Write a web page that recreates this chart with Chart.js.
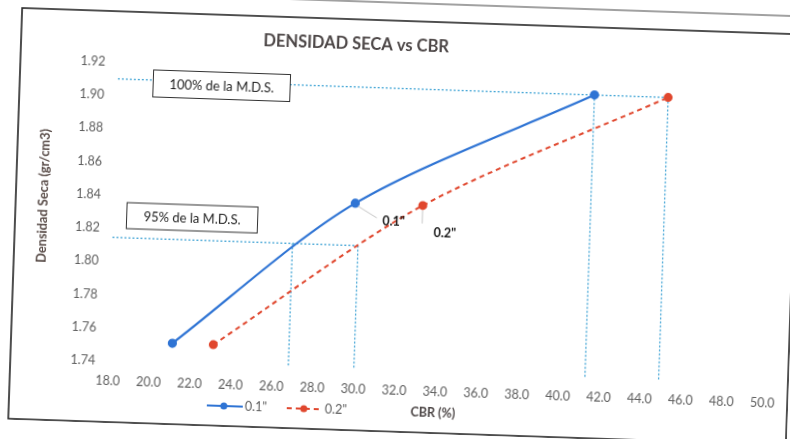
<!DOCTYPE html>
<html>
<head>
<meta charset="utf-8">
<title>Densidad seca vs CBR</title>
<script src="https://cdn.jsdelivr.net/npm/chart.js@4.4.0/dist/chart.umd.min.js"></script>
<style>
    html, body { margin: 0; padding: 0; background: #fff; }
    body { width: 790px; height: 439px; overflow: hidden; position: relative; }
    /* hoja escaneada: el marco del gráfico queda un poco girado */
    #hoja {
        position: absolute; left: 14px; top: 20px;
        width: 780px; height: 413px;
        transform: rotate(1.94deg);
    }
    #graficoCBR { position: absolute; left: 0; top: 0; }
    #corte { position: absolute; left: 0; top: -19px; }
</style>
</head>
<body>
<div id="hoja">
    <canvas id="corte" width="780" height="4"></canvas>
    <canvas id="graficoCBR" width="780" height="413"></canvas>
</div>

<script>
// Datos del ensayo CBR
const densidad = [1.752, 1.84, 1.91];    // gr/cm3
const cbr01 = [21.1, 29.8, 41.3];         // penetración 0.1"
const cbr02 = [23.1, 33.1, 44.9];         // penetración 0.2"

// Máxima densidad seca y su 95%
const mds100 = 1.91;
const mds95 = 1.8145;
const cbrAl100 = [41.3, 44.9];
const cbrAl95 = [26.8, 30.0];

// Ejes
const ejeX = { min: 18, max: 50, paso: 2 };
const ejeY = { min: 1.74, max: 1.92, paso: 0.02 };

const AZUL = '#2f74d4';
const ROJO = '#e0472e';
const CELESTE = '#45a6d6';
const GRIS = '#5e5e5e';

// borde del papel por encima del marco
(function () {
    const c = document.getElementById('corte').getContext('2d');
    c.strokeStyle = '#444';
    c.lineWidth = 1.2;
    c.beginPath();
    c.moveTo(0, 2);
    c.lineTo(780, 2);
    c.stroke();
})();

function puntos(xs, ys) {
    return xs.map((v, i) => ({ x: v, y: ys[i] }));
}

// líneas punteadas de lectura
function guia(a, b) {
    return {
        data: [a, b],
        showLine: true,
        borderColor: CELESTE,
        borderWidth: 1.3,
        borderDash: [2, 2],
        pointRadius: 0,
        tension: 0,
        order: 3
    };
}

const guias = [
    guia({ x: ejeX.min, y: mds100 }, { x: cbrAl100[1], y: mds100 }),
    guia({ x: cbrAl100[0], y: mds100 }, { x: cbrAl100[0], y: ejeY.min }),
    guia({ x: cbrAl100[1], y: mds100 }, { x: cbrAl100[1], y: ejeY.min }),
    guia({ x: ejeX.min, y: mds95 }, { x: cbrAl95[1], y: mds95 }),
    guia({ x: cbrAl95[0], y: mds95 }, { x: cbrAl95[0], y: ejeY.min }),
    guia({ x: cbrAl95[1], y: mds95 }, { x: cbrAl95[1], y: ejeY.min })
];

const curvas = [{
    label: '0.1"',
    data: puntos(cbr01, densidad),
    showLine: true,
    borderColor: AZUL,
    backgroundColor: AZUL,
    borderWidth: 2.2,
    pointRadius: 3.5,
    tension: 0.3,
    order: 1
}, {
    label: '0.2"',
    data: puntos(cbr02, densidad),
    showLine: true,
    borderColor: ROJO,
    backgroundColor: ROJO,
    borderWidth: 2,
    borderDash: [5, 4],
    pointRadius: 3.5,
    tension: 0.3,
    order: 1
}];

// fondo blanco y marco negro del gráfico
const marco = {
    id: 'marco',
    beforeDraw(chart) {
        const { ctx, width, height } = chart;
        ctx.save();
        ctx.fillStyle = '#fff';
        ctx.fillRect(0, 0, width, height);
        ctx.restore();
    },
    afterDraw(chart) {
        const { ctx, width, height } = chart;
        ctx.save();
        ctx.strokeStyle = '#222';
        ctx.lineWidth = 1.6;
        ctx.setLineDash([]);
        ctx.strokeRect(1, 1, width - 2, height - 2);
        ctx.restore();
    }
};

function caja(ctx, texto, cx, cy, w, h) {
    ctx.fillStyle = '#fff';
    ctx.fillRect(cx - w / 2, cy - h / 2, w, h);
    ctx.strokeStyle = '#333';
    ctx.lineWidth = 1;
    ctx.setLineDash([]);
    ctx.strokeRect(cx - w / 2 + 0.5, cy - h / 2 + 0.5, w - 1, h - 1);
    ctx.fillStyle = '#1e1e1e';
    ctx.font = '13px Lato';
    ctx.textAlign = 'center';
    ctx.textBaseline = 'middle';
    ctx.fillText(texto, cx, cy + 1);
}

function itemLeyenda(ctx, ds, x0, yc) {
    ctx.strokeStyle = ds.borderColor;
    ctx.lineWidth = 2;
    ctx.setLineDash(ds.borderDash || []);
    ctx.beginPath();
    ctx.moveTo(x0, yc);
    ctx.lineTo(x0 + 36, yc);
    ctx.stroke();
    ctx.setLineDash([]);
    ctx.fillStyle = ds.backgroundColor;
    ctx.beginPath();
    ctx.arc(x0 + 17, yc, 3.5, 0, Math.PI * 2);
    ctx.fill();
    ctx.fillStyle = GRIS;
    ctx.font = '12.5px Lato';
    ctx.textAlign = 'left';
    ctx.textBaseline = 'middle';
    ctx.fillText(ds.label, x0 + 38, yc);
}

// título, rótulos, cajas de texto y leyenda
const rotulos = {
    id: 'rotulos',
    afterDraw(chart) {
        const { ctx } = chart;
        const sx = chart.scales.x, sy = chart.scales.y;
        ctx.save();

        ctx.fillStyle = '#4d4747';
        ctx.font = 'bold 16.5px Lato';
        ctx.textAlign = 'center';
        ctx.textBaseline = 'middle';
        ctx.fillText('DENSIDAD SECA vs CBR', 336, 26);

        ctx.save();
        ctx.translate(29, 188);
        ctx.rotate(-Math.PI / 2);
        ctx.font = 'bold 12.8px Lato';
        ctx.fillStyle = '#574a46';
        ctx.fillText('Densidad Seca (gr/cm3)', 0, 0);
        ctx.restore();

        ctx.font = 'bold 12.5px Lato';
        ctx.fillStyle = '#4d4747';
        ctx.fillText('CBR (%)', 425, 392);

        itemLeyenda(ctx, curvas[0], 199, 392);
        itemLeyenda(ctx, curvas[1], 279, 392);

        caja(ctx, '100% de la M.D.S.', 203, 72, 138, 28);
        caja(ctx, '95% de la M.D.S.', 178, 205, 132, 27);

        // etiquetas de las curvas, junto al punto intermedio
        const p1x = sx.getPixelForValue(cbr01[1]), p1y = sy.getPixelForValue(densidad[1]);
        const p2x = sx.getPixelForValue(cbr02[1]), p2y = sy.getPixelForValue(densidad[1]);
        ctx.strokeStyle = '#c8c8c8';
        ctx.lineWidth = 1;
        ctx.beginPath();
        ctx.moveTo(p1x + 3, p1y + 3);
        ctx.lineTo(p1x + 22, p1y + 14);
        ctx.moveTo(p2x, p2y + 5);
        ctx.lineTo(p2x, p2y + 18);
        ctx.stroke();

        ctx.fillStyle = '#1a1a1a';
        ctx.font = 'bold 12.5px Lato';
        ctx.textAlign = 'center';
        ctx.fillText(curvas[0].label, p1x + 39, p1y + 17);
        ctx.fillText(curvas[1].label, p2x + 23, p2y + 27);

        ctx.restore();
    }
};

const ctx = document.getElementById('graficoCBR').getContext('2d');
new Chart(ctx, {
    type: 'scatter',
    data: { datasets: curvas.concat(guias) },
    options: {
        responsive: false,
        animation: false,
        layout: { padding: { top: 52, right: 26, left: 0, bottom: 0 } },
        plugins: {
            legend: { display: false },
            tooltip: { enabled: false }
        },
        scales: {
            x: {
                type: 'linear',
                min: ejeX.min,
                max: ejeX.max,
                grid: { display: false, drawTicks: false },
                border: { display: false },
                ticks: {
                    stepSize: ejeX.paso,
                    autoSkip: false,
                    maxRotation: 0,
                    padding: 12,
                    color: GRIS,
                    font: { family: 'Lato', size: 12.5 },
                    callback: v => Number(v).toFixed(1)
                },
                afterFit(s) { s.height = 62; }
            },
            y: {
                type: 'linear',
                min: ejeY.min,
                max: ejeY.max,
                grid: { display: false, drawTicks: false },
                border: { display: false },
                ticks: {
                    stepSize: ejeY.paso,
                    padding: 13,
                    color: GRIS,
                    font: { family: 'Lato', size: 12.5 },
                    callback: v => Number(v).toFixed(2)
                },
                afterFit(s) { s.width = 99; }
            }
        }
    },
    plugins: [marco, rotulos]
});
</script>
</body>
</html>
